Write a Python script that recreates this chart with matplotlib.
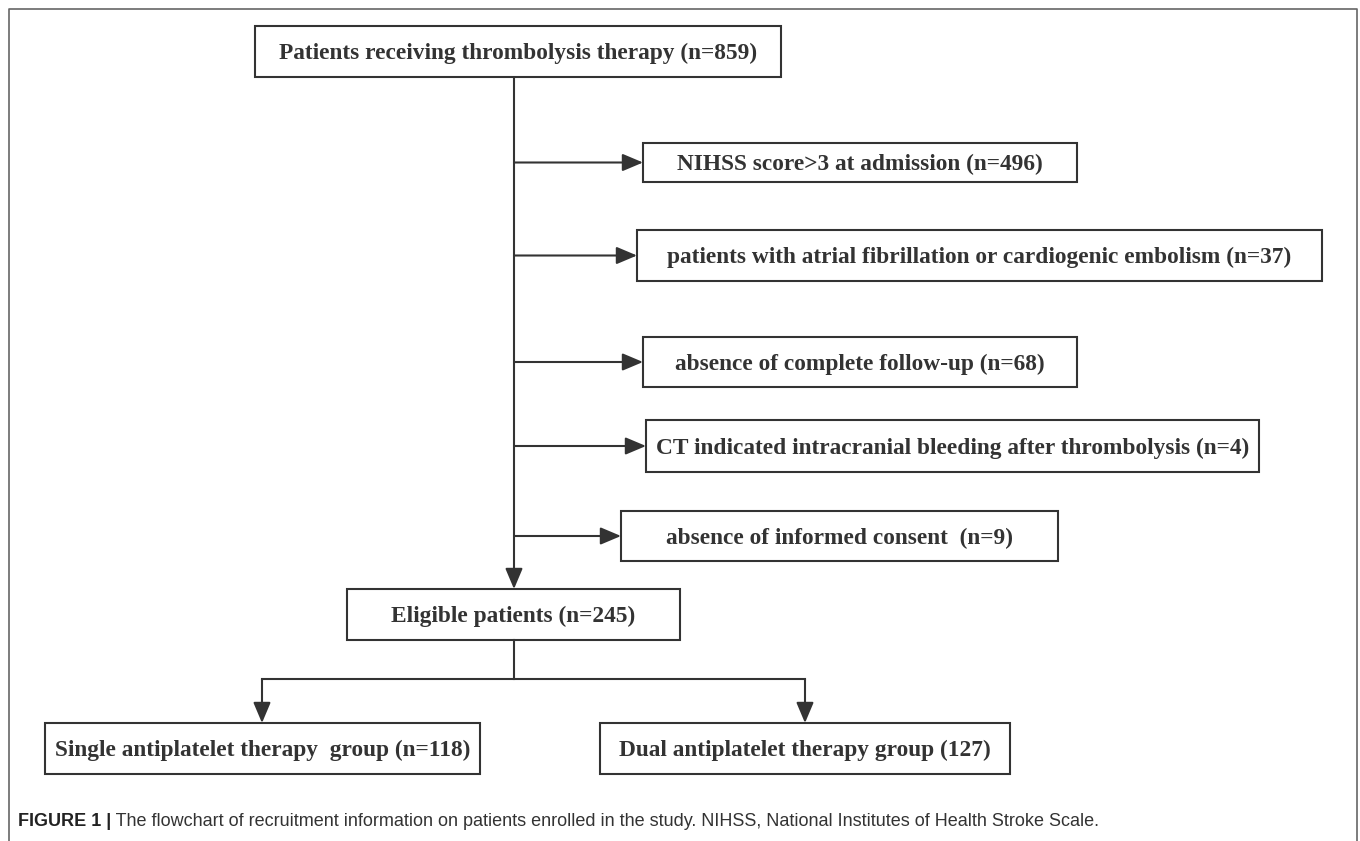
import matplotlib
matplotlib.use('Agg')
import matplotlib.pyplot as plt
from matplotlib.patches import Rectangle

# data
top_label = 'Patients receiving thrombolysis therapy (n=859)'
excluded_reasons = ['NIHSS score>3 at admission',
                    'patients with atrial fibrillation or cardiogenic embolism',
                    'absence of complete follow-up',
                    'CT indicated intracranial bleeding after thrombolysis',
                    'absence of informed consent ']
excluded_n = [496, 37, 68, 4, 9]
eligible_n = 245
group_names = ['Single antiplatelet therapy  group', 'Dual antiplatelet therapy group']
group_n = ['n=118', '127']
caption_head = 'FIGURE 1 |'
caption_body = (' The flowchart of recruitment information on patients enrolled in the study. '
                'NIHSS, National Institutes of Health Stroke Scale.')

# layout in pixels (x0, y0, x1, y1)
top_box = (255, 26, 781, 77)
excl_boxes = [(643, 143, 1077, 182),
              (637, 230, 1322, 281),
              (643, 337, 1077, 387),
              (646, 420, 1259, 472),
              (621, 511, 1058, 561)]
elig_box = (347, 589, 680, 640)
group_boxes = [(45, 723, 480, 774), (600, 723, 1010, 774)]
group_x = [262, 805]
trunk_x = 514
split_y = 679

ink = '#333333'
fs = 16.8
lw = 1.5

fig = plt.figure(figsize=(13.6, 8.41), dpi=100)
ax = fig.add_axes([0, 0, 1, 1])
ax.set_xlim(0, 1360)
ax.set_ylim(841, 0)
ax.axis('off')


def box(b, text):
    x0, y0, x1, y1 = b
    ax.add_patch(Rectangle((x0, y0), x1 - x0, y1 - y0, fill=False, ec=ink, lw=lw))
    ax.text((x0 + x1) / 2, (y0 + y1) / 2 + 2, text, ha='center', va='center',
            fontsize=fs, fontweight='bold', family='Liberation Serif', color=ink)


def arrow(x0, y0, x1, y1):
    ax.annotate('', xy=(x1, y1), xytext=(x0, y0),
                arrowprops=dict(arrowstyle='-|>,head_length=0.9,head_width=0.38',
                                mutation_scale=14, lw=lw, color=ink,
                                shrinkA=0, shrinkB=0))


# outer frame
ax.plot([9, 9, 1357, 1357], [841, 9, 9, 841], color='#666666', lw=1.2)

box(top_box, top_label)
for b, r, n in zip(excl_boxes, excluded_reasons, excluded_n):
    box(b, '%s (n=%d)' % (r, n))
    ymid = (b[1] + b[3]) / 2
    arrow(trunk_x, ymid, b[0], ymid)

box(elig_box, 'Eligible patients (n=%d)' % eligible_n)
arrow(trunk_x, top_box[3], trunk_x, elig_box[1])

# split to the two groups
ax.plot([trunk_x, trunk_x], [elig_box[3], split_y], color=ink, lw=lw)
ax.plot([group_x[0], group_x[1]], [split_y, split_y], color=ink, lw=lw)
for b, cx, name, n in zip(group_boxes, group_x, group_names, group_n):
    arrow(cx, split_y, cx, b[1])
    box(b, '%s (%s)' % (name, n))

# caption
t = ax.text(18, 822, caption_head, fontsize=13.0, fontweight='bold',
            family='Liberation Sans', color='#222222', va='center')
fig.canvas.draw()
bb = t.get_window_extent()
x_end = ax.transData.inverted().transform((bb.x1, bb.y0))[0]
ax.text(x_end, 822, caption_body, fontsize=13.0, family='Liberation Sans',
        color='#333333', va='center')

fig.savefig('out.png', dpi=100)
